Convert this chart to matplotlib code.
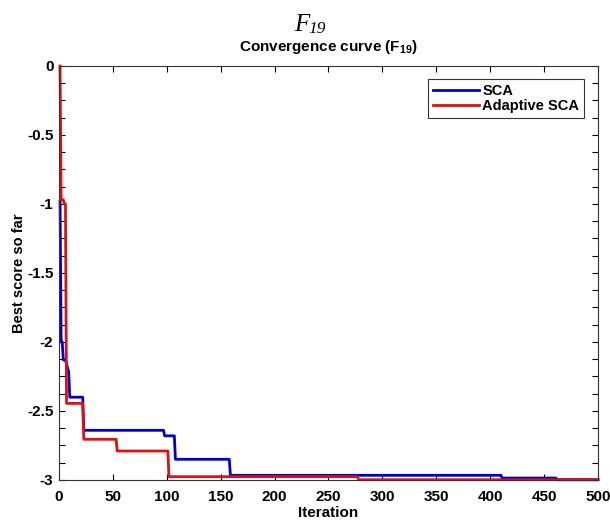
"""Curvas de convergencia SCA vs Adaptive SCA para la función F19."""
import matplotlib

matplotlib.use("Agg")
import matplotlib.pyplot as plt  # noqa: E402
import numpy as np  # noqa: E402
from matplotlib.ticker import MultipleLocator  # noqa: E402

MAX_ITER = 500

# Iteración en la que cambia el mejor valor y el valor alcanzado
sca_iters = [1, 2, 4, 7, 8, 9, 10, 23, 98, 108, 159, 411, 462]
sca_scores = [-0.98, -2.0, -2.13, -2.16, -2.19, -2.215, -2.40, -2.64,
              -2.68, -2.85, -2.966, -2.986, -2.998]

asca_iters = [1, 2, 5, 7, 23, 54, 102, 278]
asca_scores = [0.0, -0.97, -1.0, -2.445, -2.705, -2.79, -2.976, -2.998]

x_ticks = [0, 50, 100, 150, 200, 250, 300, 350, 400, 450, 500]
y_ticks = [0, -0.5, -1, -1.5, -2, -2.5, -3]


def _curve(iters, scores):
    """Expande los puntos de cambio a la curva completa (mejor valor hasta ahora)."""
    it = np.arange(1, MAX_ITER + 1)
    idx = np.searchsorted(iters, it, side="right") - 1
    return it, np.asarray(scores)[idx]


plt.rcParams["font.family"] = ["Liberation Sans", "DejaVu Sans"]
plt.rcParams["mathtext.fontset"] = "custom"
plt.rcParams["mathtext.bf"] = "Liberation Sans:bold"
plt.rcParams["mathtext.rm"] = "Liberation Sans"

fig = plt.figure(figsize=(6.10, 5.27), dpi=100)
ax = fig.add_axes([0.0967, 0.0892, 0.8836, 0.7856])

x_sca, y_sca = _curve(sca_iters, sca_scores)
x_asca, y_asca = _curve(asca_iters, asca_scores)
ax.plot(x_sca, y_sca, color="#0000cc", linewidth=2.0, label="SCA", clip_on=False)
ax.plot(x_asca, y_asca, color="#dd1111", linewidth=2.0, label="Adaptive SCA",
        clip_on=False)

ax.set_xlim(0, MAX_ITER)
ax.set_ylim(-3, 0)
ax.set_xticks(x_ticks)
ax.set_yticks(y_ticks)
ax.set_yticklabels(["0", "-0.5", "-1", "-1.5", "-2", "-2.5", "-3"])
ax.yaxis.set_minor_locator(MultipleLocator(0.125))
ax.tick_params(which="both", direction="in", top=True, right=True,
               length=4, width=0.8, labelsize=11, pad=4)
ax.tick_params(axis="x", pad=7)
for lbl in ax.get_xticklabels() + ax.get_yticklabels():
    lbl.set_fontweight("bold")
for sp in ax.spines.values():
    sp.set_linewidth(0.8)
    sp.set_color("#333333")

ax.set_xlabel("Iteration", fontsize=11, fontweight="bold", labelpad=2)
ax.set_ylabel("Best score so far", fontsize=10.5, fontweight="bold", labelpad=1)
ax.set_title(r"Convergence curve (F$_{\mathbf{19}}$)", fontsize=11,
             fontweight="bold", pad=11)

leg = ax.legend(loc="upper right", bbox_to_anchor=(0.987, 0.985),
                prop={"weight": "bold", "size": 10.5}, handlelength=3.2,
                handletextpad=0.2, borderpad=0.3, labelspacing=0.1,
                fancybox=False, edgecolor="#333333", framealpha=1)
leg.get_frame().set_linewidth(0.8)

# Encabezado F19 en serif cursiva, con el subíndice aparte
serif = ["Liberation Serif", "DejaVu Serif"]
t_f = fig.text(0.495, 0.953, "F", ha="center", va="center", fontsize=18,
               family=serif, style="italic")
fig.get_figure().canvas.draw()
ax.annotate("19", xy=(0.95, 0.0), xycoords=t_f, xytext=(0, -1),
            textcoords="offset points", ha="left", va="bottom", fontsize=12.5,
            family=serif, style="italic", annotation_clip=False)

fig.savefig("out.png", dpi=100)
